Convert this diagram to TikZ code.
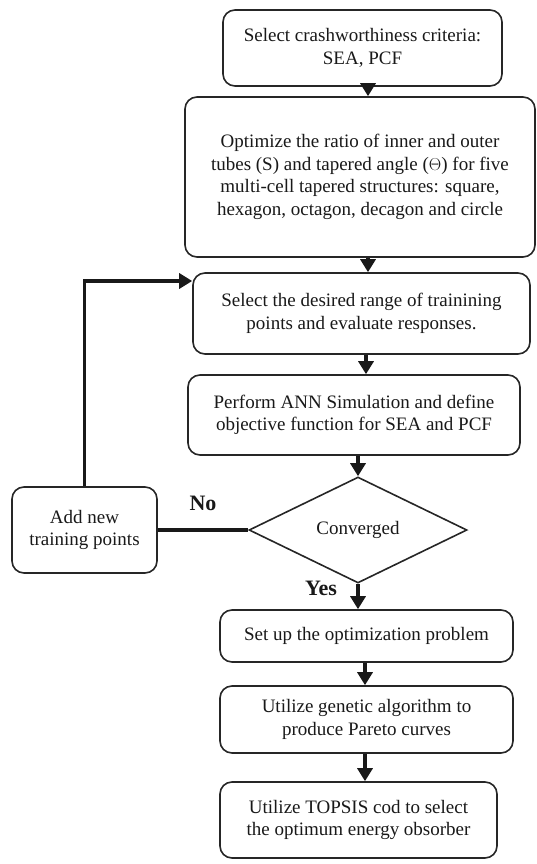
\documentclass[tikz,border=0pt]{standalone}
\usepackage{fontspec}
\setmainfont{Liberation Serif}
\usetikzlibrary{shapes.geometric,arrows.meta}
\begin{document}
\begin{tikzpicture}[x=1pt,y=-1pt,
  box/.style={draw=black!85,line width=1.6pt,rounded corners=12pt,align=center,
    inner sep=2pt,font=\fontsize{19}{22.5}\selectfont,text=black!90},
  flow/.style={line width=3.6pt,draw=black!90,-{Triangle[length=13pt,width=15pt]}},
  link/.style={line width=3.6pt,draw=black!90},
  lbl/.style={font=\fontsize{22}{24}\selectfont\bfseries,text=black!90}]
\useasboundingbox[fill=white] (0,0) rectangle (536,864);
\node[box,minimum width=279pt,minimum height=76pt] (b1) at (362.5,48)
  {Select crashworthiness criteria:\\SEA, PCF};
\node[box,minimum width=350pt,minimum height=160pt] (b2) at (360,177)
  {Optimize the ratio of inner and outer\\tubes (S) and tapered angle ($\Theta$) for five\\multi-cell tapered structures: square,\\hexagon, octagon, decagon and circle};
\node[box,minimum width=337pt,minimum height=81pt] (b3) at (361.5,313.5)
  {Select the desired range of trainining\\points and evaluate responses.};
\node[box,minimum width=332pt,minimum height=80pt] (b4) at (354,415)
  {Perform ANN Simulation and define\\objective function for SEA and PCF};
\node[draw=black!85,line width=1.6pt,diamond,minimum width=218pt,minimum height=106pt,
  inner sep=0pt,font=\fontsize{19}{22.5}\selectfont,text=black!90] (cv) at (358,530) {Converged};
\node[box,minimum width=145pt,minimum height=86pt] (add) at (84.5,530)
  {Add new\\training points};
\node[box,minimum width=293pt,minimum height=52pt] (b5) at (366.5,636)
  {Set up the optimization problem};
\node[box,minimum width=293pt,minimum height=67pt] (b6) at (366.5,719.5)
  {Utilize genetic algorithm to\\produce Pareto curves};
\node[box,minimum width=277pt,minimum height=76pt] (b7) at (358.5,820)
  {Utilize TOPSIS cod to select\\the optimum energy obsorber};
\coordinate (loopy) at (0,281);
\draw[flow] (b1.south -| 368,0) -- (b2.north -| 368,0);
\draw[flow] (b2.south -| 368,0) -- (b3.north -| 368,0);
\draw[flow] (b3.south -| 366,0) -- (b4.north -| 366,0);
\draw[flow] (b4.south -| 358,0) -- (cv.north);
\draw[flow] (cv.south) -- (b5.north -| cv.south);
\draw[flow] (b5.south -| 365,0) -- (b6.north -| 365,0);
\draw[flow] (b6.south -| 365,0) -- (b7.north -| 365,0);
\draw[link] (add.east) -- (cv.west);
\draw[flow] (add.north) |- (b3.west |- loopy);
\node[lbl] (no) at (203,503) {No};
\node[lbl] (yes) at (321,588) {Yes};
\end{tikzpicture}
\end{document}
